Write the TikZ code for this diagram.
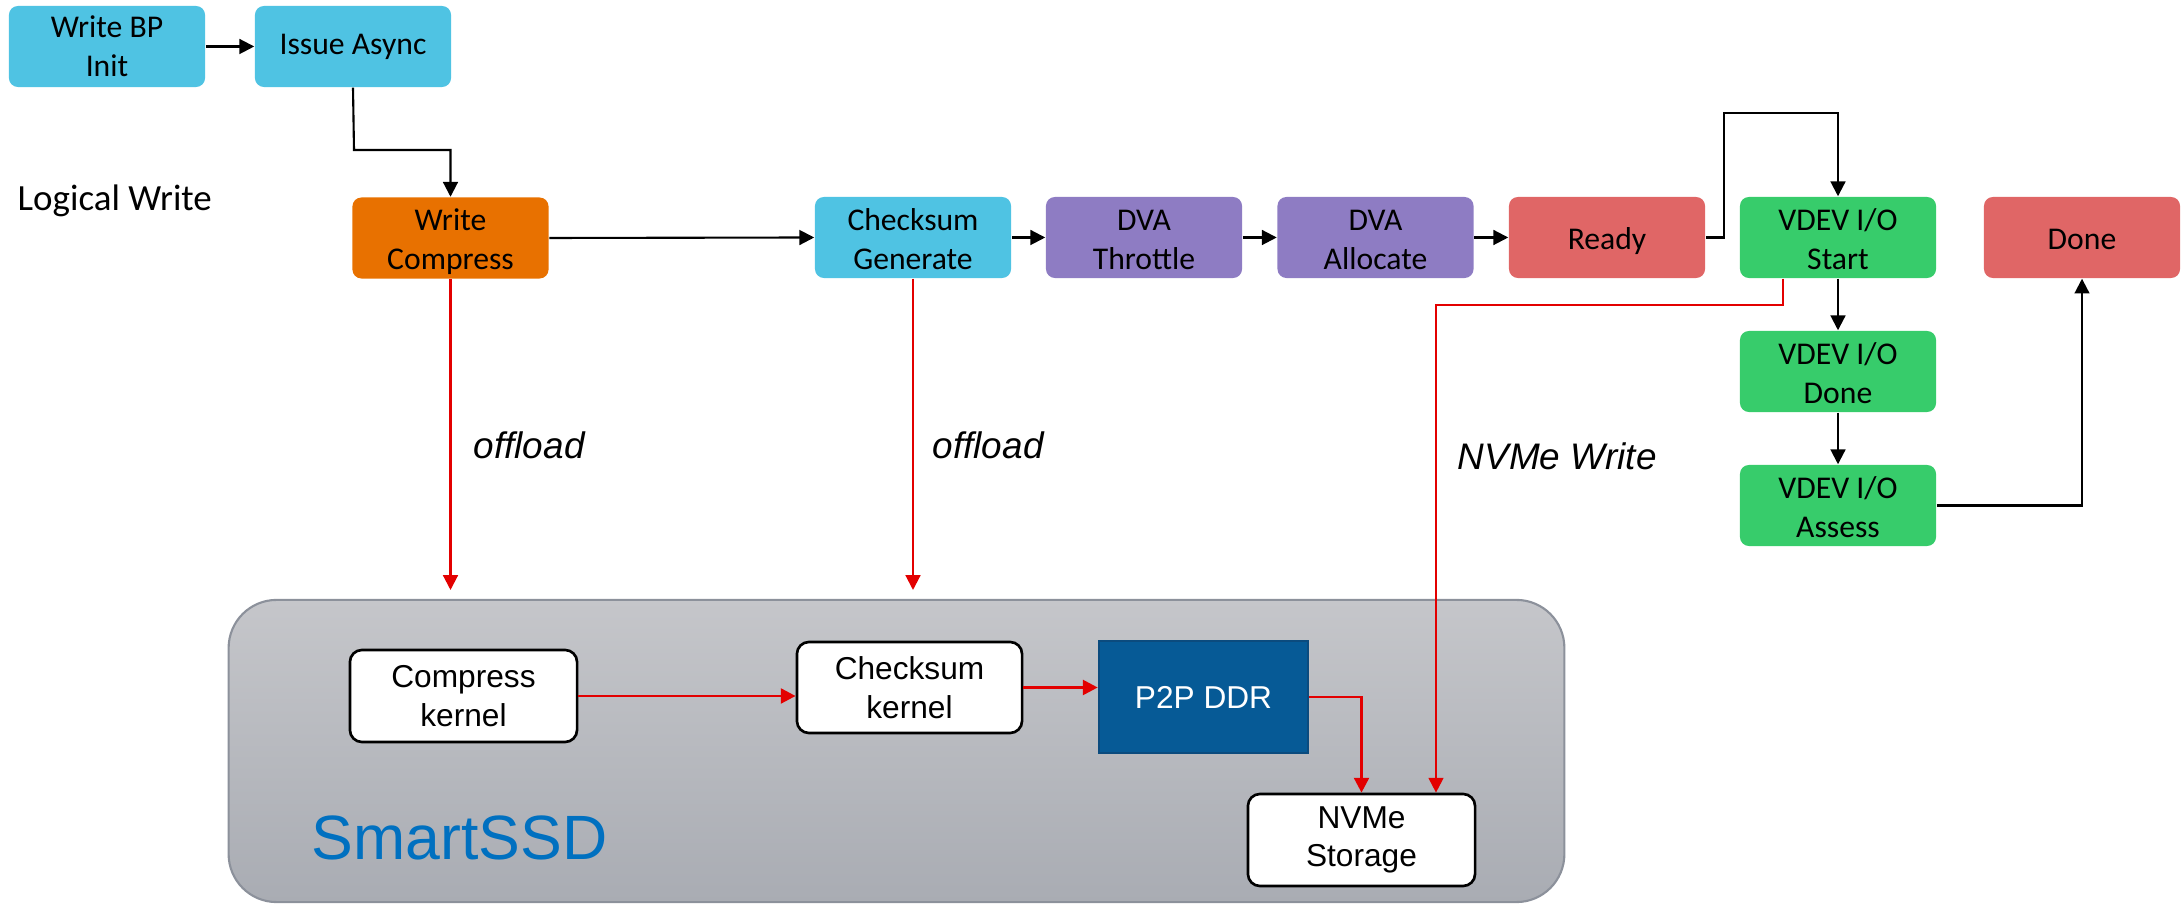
\documentclass[tikz,border=0pt]{standalone}
\usepackage{fontspec}
\setmainfont{Carlito}
\newfontfamily\arialf{Liberation Sans}
\usetikzlibrary{arrows.meta}
\definecolor{cyanb}{HTML}{4FC3E3}
\definecolor{orng}{HTML}{E87100}
\definecolor{purp}{HTML}{8E7CC3}
\definecolor{redb}{HTML}{E06666}
\definecolor{grn}{HTML}{37CC6B}
\definecolor{ddr}{HTML}{065A96}
\definecolor{ddrb}{HTML}{0B4B7E}
\definecolor{ssdtop}{HTML}{C5C6CA}
\definecolor{ssdbot}{HTML}{A9ACB3}
\definecolor{ssdedge}{HTML}{8C919B}
\definecolor{ssdblue}{HTML}{0070C0}
\definecolor{redl}{HTML}{E30000}
\newcommand\stx[1]{\raisebox{-1.3pt}[\height][\depth]{\begin{tabular}{@{}c@{}}#1\end{tabular}}}
\begin{document}
\begin{tikzpicture}[x=0.01cm,y=-0.01cm,
  stage/.style={rounded corners=0.09cm, minimum width=1.96cm, minimum height=0.81cm, inner sep=0pt, align=center, font=\fontsize{9pt}{11pt}\selectfont, text=black},
  kern/.style={draw=black, line width=0.75pt, fill=white, rounded corners=0.12cm, inner sep=0pt, align=center, font=\arialf\fontsize{9pt}{11pt}\selectfont},
  blk/.style={draw=black, line width=0.6pt, -{Triangle[length=4.2pt,width=4.2pt]}},
  rdl/.style={draw=redl, line width=0.6pt, -{Triangle[length=4.2pt,width=4.2pt]}},
  lbl/.style={font=\arialf\itshape\fontsize{10.5pt}{12pt}\selectfont, anchor=west, inner sep=0pt}
]
\useasboundingbox (0,0) rectangle (2181,904);

% SmartSSD container
\node[draw=ssdedge, line width=0.6pt, top color=ssdtop, bottom color=ssdbot, rounded corners=0.48cm,
  minimum width=13.35cm, minimum height=3.02cm, inner sep=0pt] (ssd) at (896.5,751) {};
\node[anchor=west, inner sep=0pt, text=ssdblue, font=\arialf\fontsize{17.8pt}{20pt}\selectfont] (ssdl) at (311,838) {SmartSSD};

% top rows
\node[stage, fill=cyanb] (wbp) at (107,46.5) {Write BP\\Init};
\node[stage, fill=cyanb] (ia) at (353,46.5) {Issue Async};
\node[anchor=west, inner sep=0pt, font=\fontsize{10.5pt}{12pt}\selectfont] (lw) at (17,201) {Logical Write};
\node[stage, fill=orng] (wc) at (450.5,238) {\stx{Write\\Compress}};
\node[stage, fill=cyanb] (cg) at (913,237.5) {\stx{Checksum\\Generate}};
\node[stage, fill=purp] (dt) at (1144,237.5) {\stx{DVA\\Throttle}};
\node[stage, fill=purp] (da) at (1375.5,237.5) {\stx{DVA\\Allocate}};
\node[stage, fill=redb] (rd) at (1607,237.5) {\stx{Ready}};
\node[stage, fill=grn] (vs) at (1838,237.5) {\stx{VDEV I/O\\Start}};
\node[stage, fill=redb] (dn) at (2082,237.5) {\stx{Done}};
\node[stage, fill=grn] (vd) at (1838,371.5) {\stx{VDEV I/O\\Done}};
\node[stage, fill=grn] (va) at (1838,505.5) {\stx{VDEV I/O\\Assess}};

% kernels
\node[kern, minimum width=2.27cm, minimum height=0.92cm] (ck) at (463.5,696) {Compress\\kernel};
\node[kern, minimum width=2.25cm, minimum height=0.91cm] (csk) at (909.5,687.5) {Checksum\\kernel};
\node[draw=ddrb, line width=0.7pt, fill=ddr, text=white, inner sep=0pt, minimum width=2.09cm, minimum height=1.12cm,
  font=\arialf\fontsize{9pt}{11pt}\selectfont] (p2p) at (1203.5,697) {P2P DDR};
\node[kern, minimum width=2.27cm, minimum height=0.92cm] (nvme) at (1361.5,840) {NVMe\\Storage};

% labels
\node[lbl] (off1) at (473,445) {offload};
\node[lbl] (off2) at (932,445) {offload};
\node[lbl] (nw) at (1457,456) {NVMe Write};

% coordinates
\coordinate (i1) at (354,150);
\coordinate (r1) at (1724,113);
\coordinate (o1) at (450.5,590);
\coordinate (o2) at (913,590);
\coordinate (v1) at (1783,305);
\coordinate (v2) at (1436,305);

% black connectors
\draw[blk] (wbp.east) -- (ia.west);
\draw[blk] (ia.south) -- (i1) -| (wc.north);
\draw[blk] (wc.east) -- (cg.west);
\draw[blk] (cg.east) -- (dt.west);
\draw[blk] (dt.east) -- (da.west);
\draw[blk] (da.east) -- (rd.west);
\draw[blk] (rd.east) -| (r1) -| (vs.north);
\draw[blk] (vs.south) -- (vd.north);
\draw[blk] (vd.south) -- (va.north);
\draw[blk] (va.east) -| (dn.south);

% red connectors
\draw[rdl] (wc.south) -- (o1);
\draw[rdl] (cg.south) -- (o2);
\draw[rdl] (vs.south -| v1) -- (v1) -- (v2) -- (v2 |- nvme.north);
\draw[rdl, line width=0.8pt] (ck.east) -- (ck.east -| csk.west);
\draw[rdl, line width=0.8pt] (csk.east) -- (csk.east -| p2p.west);
\draw[rdl, line width=0.8pt] (p2p.east) -| (nvme.north);
\end{tikzpicture}
\end{document}
